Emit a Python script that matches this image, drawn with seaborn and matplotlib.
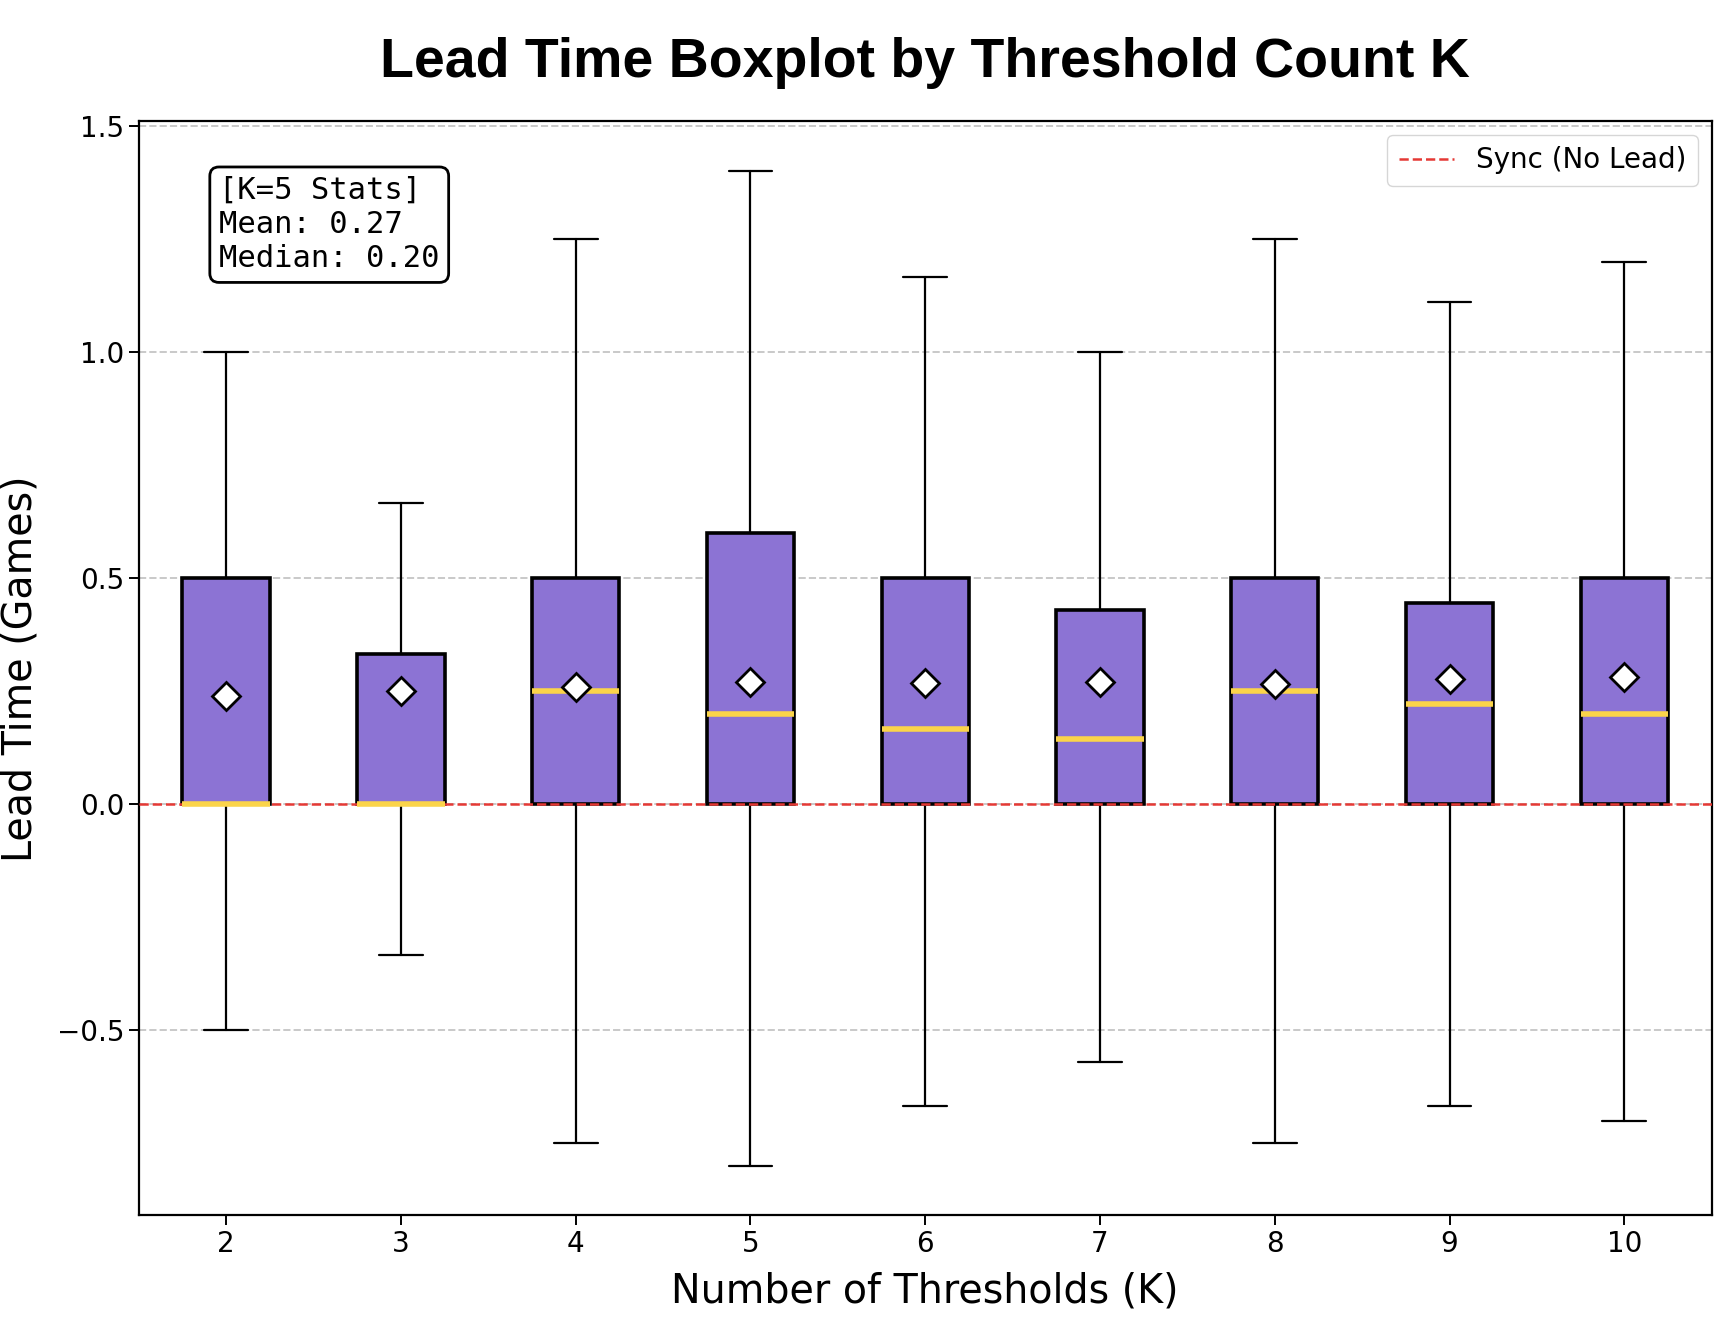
import numpy as np
import matplotlib.pyplot as plt
import seaborn as sns

# nilai
k_values = [2, 3, 4, 5, 6, 7, 8, 9, 10]
whisker_low = [-0.5, -0.333, -0.75, -0.8, -0.667, -0.571, -0.75, -0.667, -0.7]
q1 = [0.0, 0.0, 0.0, 0.0, 0.0, 0.0, 0.0, 0.0, 0.0]
median = [0.0, 0.0, 0.25, 0.2, 0.167, 0.143, 0.25, 0.222, 0.2]
q3 = [0.5, 0.333, 0.5, 0.6, 0.5, 0.429, 0.5, 0.444, 0.5]
whisker_high = [1.0, 0.667, 1.25, 1.4, 1.167, 1.0, 1.25, 1.111, 1.2]
mean = [0.24, 0.25, 0.26, 0.27, 0.267, 0.27, 0.265, 0.277, 0.28]

sns.set_theme(style="ticks")
plt.rcParams['font.family'] = ['DejaVu Sans']
plt.rcParams['text.color'] = 'black'
plt.rcParams['axes.labelcolor'] = 'black'
plt.rcParams['xtick.color'] = 'black'
plt.rcParams['ytick.color'] = 'black'

stats = []
for i, k in enumerate(k_values):
    stats.append(dict(label=str(k), whislo=whisker_low[i], q1=q1[i], med=median[i],
                      q3=q3[i], whishi=whisker_high[i], mean=mean[i], fliers=[]))

fig, ax = plt.subplots(figsize=(17.26, 13.2), dpi=100)
fig.subplots_adjust(left=0.0804, right=0.9917, top=0.908, bottom=0.0792)

ax.bxp(stats, positions=k_values, widths=0.5, showmeans=True, patch_artist=True,
       boxprops=dict(facecolor='#8c73d4', edgecolor='black', linewidth=2.6),
       whiskerprops=dict(color='black', linewidth=1.6),
       capprops=dict(color='black', linewidth=1.6),
       medianprops=dict(color='#fbd44a', linewidth=4.0, zorder=4),
       meanprops=dict(marker='D', markerfacecolor='white', markeredgecolor='black',
                      markersize=14, markeredgewidth=2.0, zorder=5))

ax.axhline(0, color='#e53935', linestyle='--', linewidth=1.8, zorder=3, label='Sync (No Lead)')

ax.set_xlim(1.5, 10.5)
ax.set_ylim(-0.91, 1.51)
ax.set_yticks([-0.5, 0.0, 0.5, 1.0, 1.5])
ax.yaxis.grid(True, linestyle='--', color='#bbbbbb', linewidth=1.4, alpha=0.8)
ax.set_axisbelow(True)
for s in ax.spines.values():
    s.set_color('black')
    s.set_linewidth(1.6)
ax.tick_params(axis='both', labelsize=20, length=7, width=1.4, color='black')

ax.set_xlabel("Number of Thresholds (K)", fontsize=28.5, labelpad=10)
ax.set_ylabel("Lead Time (Games)", fontsize=28.5, labelpad=12)
ax.set_title("Lead Time Boxplot by Threshold Count K", fontsize=40, fontweight='bold',
             family='Liberation Sans', pad=32)

idx5 = k_values.index(5)
ax.text(0.051, 0.950, f"[K=5 Stats]\nMean: {mean[idx5]:.2f}\nMedian: {median[idx5]:.2f}",
        transform=ax.transAxes, va='top', ha='left', family='DejaVu Sans Mono', fontsize=22,
        linespacing=1.22,
        bbox=dict(boxstyle='round,pad=0.3', facecolor='white', edgecolor='black', linewidth=2))

ax.legend(loc='upper right', fontsize=20, frameon=True, fancybox=True, edgecolor='#cccccc')

fig.savefig("out.png", dpi=100)
